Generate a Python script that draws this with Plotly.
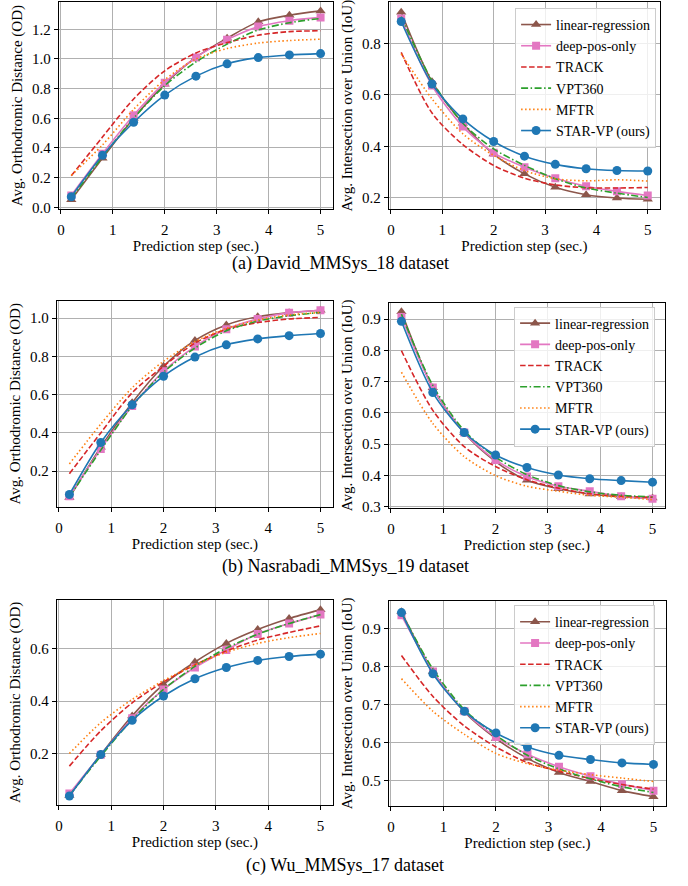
import plotly.graph_objects as go

W, H = 688, 886

steps = [0.2, 0.8, 1.4, 2.0, 2.6, 3.2, 3.8, 4.4, 5.0]
methods = ["linear-regression", "deep-pos-only", "TRACK", "VPT360", "MFTR", "STAR-VP (ours)"]

# (a) David_MMSys_18
david_od = {
    "linear-regression": [0.05, 0.33, 0.60, 0.83, 1.01, 1.14, 1.25, 1.295, 1.324],
    "deep-pos-only":     [0.08, 0.36, 0.62, 0.84, 1.01, 1.13, 1.218, 1.258, 1.28],
    "TRACK":             [0.213, 0.473, 0.73, 0.92, 1.04, 1.11, 1.16, 1.184, 1.19],
    "VPT360":            [0.06, 0.34, 0.60, 0.82, 0.98, 1.10, 1.195, 1.244, 1.273],
    "MFTR":              [0.215, 0.42, 0.66, 0.86, 1.00, 1.07, 1.107, 1.124, 1.133],
    "STAR-VP (ours)":    [0.071, 0.35, 0.573, 0.756, 0.884, 0.967, 1.009, 1.027, 1.036],
}
david_iou = {
    "linear-regression": [0.922, 0.652, 0.49, 0.37, 0.293, 0.241, 0.212, 0.199, 0.194],
    "deep-pos-only":     [0.898, 0.637, 0.477, 0.375, 0.319, 0.276, 0.245, 0.225, 0.209],
    "TRACK":             [0.766, 0.53, 0.407, 0.326, 0.276, 0.25, 0.239, 0.238, 0.24],
    "VPT360":            [0.905, 0.655, 0.49, 0.39, 0.326, 0.274, 0.238, 0.218, 0.201],
    "MFTR":              [0.76, 0.585, 0.449, 0.365, 0.306, 0.274, 0.266, 0.27, 0.265],
    "STAR-VP (ours)":    [0.886, 0.643, 0.507, 0.419, 0.362, 0.33, 0.313, 0.306, 0.304],
}
# (b) Nasrabadi_MMSys_19
nasr_od = {
    "linear-regression": [0.062, 0.325, 0.558, 0.748, 0.883, 0.964, 1.007, 1.028, 1.041],
    "deep-pos-only":     [0.069, 0.316, 0.54, 0.722, 0.851, 0.941, 0.995, 1.028, 1.041],
    "TRACK":             [0.187, 0.40, 0.61, 0.748, 0.869, 0.941, 0.976, 0.995, 1.003],
    "VPT360":            [0.065, 0.31, 0.54, 0.717, 0.843, 0.933, 0.984, 1.012, 1.029],
    "MFTR":              [0.238, 0.446, 0.636, 0.774, 0.877, 0.946, 0.99, 1.016, 1.029],
    "STAR-VP (ours)":    [0.078, 0.35, 0.547, 0.696, 0.796, 0.86, 0.891, 0.908, 0.919],
}
nasr_iou = {
    "linear-regression": [0.924, 0.68, 0.536, 0.444, 0.384, 0.357, 0.34, 0.331, 0.327],
    "deep-pos-only":     [0.907, 0.681, 0.537, 0.449, 0.396, 0.365, 0.349, 0.333, 0.325],
    "TRACK":             [0.799, 0.608, 0.492, 0.428, 0.386, 0.359, 0.341, 0.333, 0.33],
    "VPT360":            [0.916, 0.688, 0.543, 0.458, 0.402, 0.367, 0.347, 0.336, 0.331],
    "MFTR":              [0.73, 0.566, 0.46, 0.399, 0.365, 0.349, 0.336, 0.33, 0.322],
    "STAR-VP (ours)":    [0.893, 0.665, 0.537, 0.465, 0.425, 0.401, 0.389, 0.383, 0.378],
}
# (c) Wu_MMSys_17
wu_od = {
    "linear-regression": [0.04, 0.196, 0.344, 0.464, 0.55, 0.621, 0.674, 0.716, 0.75],
    "deep-pos-only":     [0.047, 0.195, 0.335, 0.445, 0.529, 0.596, 0.657, 0.697, 0.731],
    "TRACK":             [0.152, 0.287, 0.394, 0.474, 0.539, 0.592, 0.634, 0.663, 0.688],
    "VPT360":            [0.04, 0.19, 0.33, 0.445, 0.533, 0.603, 0.656, 0.697, 0.731],
    "MFTR":              [0.20, 0.318, 0.407, 0.479, 0.539, 0.587, 0.621, 0.643, 0.659],
    "STAR-VP (ours)":    [0.038, 0.196, 0.327, 0.42, 0.486, 0.529, 0.556, 0.571, 0.58],
}
wu_iou = {
    "linear-regression": [0.944, 0.787, 0.68, 0.61, 0.558, 0.521, 0.497, 0.473, 0.457],
    "deep-pos-only":     [0.935, 0.787, 0.682, 0.614, 0.569, 0.536, 0.511, 0.49, 0.473],
    "TRACK":             [0.829, 0.721, 0.643, 0.588, 0.547, 0.524, 0.505, 0.489, 0.477],
    "VPT360":            [0.942, 0.793, 0.686, 0.619, 0.566, 0.53, 0.504, 0.483, 0.468],
    "MFTR":              [0.768, 0.682, 0.621, 0.571, 0.544, 0.527, 0.515, 0.506, 0.497],
    "STAR-VP (ours)":    [0.942, 0.781, 0.682, 0.625, 0.588, 0.566, 0.555, 0.546, 0.542],
}

captions = ["(a) David_MMSys_18 dataset", "(b) Nasrabadi_MMSys_19 dataset", "(c) Wu_MMSys_17 dataset"]
od_title = "Avg. Orthodromic Distance (OD)"
iou_title = "Avg. Intersection over Union (IoU)"
x_title = "Prediction step (sec.)"

# styles
styles = {
    "linear-regression": dict(color="#8c564b", dash="solid", symbol="triangle-up", msize=9),
    "deep-pos-only": dict(color="#e377c2", dash="solid", symbol="square", msize=8),
    "TRACK": dict(color="#d62728", dash="5.5px,2.5px", symbol=None, msize=0),
    "VPT360": dict(color="#2ca02c", dash="7px,2.5px,1.5px,2.5px", symbol=None, msize=0),
    "MFTR": dict(color="#ff7f0e", dash="1.5px,2.5px", symbol=None, msize=0),
    "STAR-VP (ours)": dict(color="#1f77b4", dash="solid", symbol="circle", msize=9),
}

FONT = "Liberation Serif"

# panel pixel boxes: (x0, x1, ytop, ybottom), yrange, yticks, data, ytitle, legend
panels = [
    ((57, 332, 2, 211), (-0.014, 1.384), [0.0, 0.2, 0.4, 0.6, 0.8, 1.0, 1.2], david_od, od_title, None),
    ((388, 660, 2, 211), (0.155, 0.962), [0.2, 0.4, 0.6, 0.8], david_iou, iou_title, "legend"),
    ((55, 332, 303, 511), (0.013, 1.091), [0.2, 0.4, 0.6, 0.8, 1.0], nasr_od, od_title, None),
    ((388, 665, 305, 512), (0.2955, 0.953), [0.3, 0.4, 0.5, 0.6, 0.7, 0.8, 0.9], nasr_iou, iou_title, "legend2"),
    ((55, 332, 605, 811), (0.005, 0.786), [0.2, 0.4, 0.6], wu_od, od_title, None),
    ((388, 666, 606, 812), (0.4336, 0.972), [0.5, 0.6, 0.7, 0.8, 0.9], wu_iou, iou_title, "legend3"),
]

fig = go.Figure()
layout = dict(
    width=W, height=H, margin=dict(l=0, r=0, t=0, b=0),
    paper_bgcolor="white", plot_bgcolor="white",
    font=dict(family=FONT, size=14, color="black"),
)

for i, (box, yr, yt, data, ytitle, leg) in enumerate(panels):
    n = "" if i == 0 else str(i + 1)
    x0, x1, yt0, yb = box
    common = dict(
        showline=True, mirror=True, linecolor="black", linewidth=1,
        ticks="outside", ticklen=4, tickcolor="black", tickwidth=1,
        showgrid=True, gridcolor="#b0b0b0", gridwidth=1, zeroline=False,
        tickfont=dict(family=FONT, size=15, color="black"),
    )
    layout["xaxis" + n] = dict(
        domain=[x0 / W, x1 / W], range=[-0.04, 5.24], anchor="y" + n,
        tickvals=[0, 1, 2, 3, 4, 5], ticklabelstandoff=3,
        title=dict(text=x_title, standoff=2, font=dict(family=FONT, size=15)),
        **common,
    )
    layout["yaxis" + n] = dict(
        domain=[1 - yb / H, 1 - yt0 / H], range=list(yr), anchor="x" + n,
        tickvals=yt, ticktext=[f"{v:.1f}" for v in yt],
        title=dict(text=ytitle, standoff=5, font=dict(family=FONT, size=15)),
        **common,
    )
    for m in methods:
        s = styles[m]
        mode = "lines+markers" if s["symbol"] else "lines"
        tr = dict(
            x=steps, y=data[m], name=m, mode=mode,
            line=dict(color=s["color"], width=1.6, dash=s["dash"], shape="spline", smoothing=0.8),
            xaxis="x" + n, yaxis="y" + n,
            showlegend=leg is not None,
        )
        if s["symbol"]:
            tr["marker"] = dict(symbol=s["symbol"], size=s["msize"], color=s["color"])
        if leg is not None:
            tr["legend"] = leg
        fig.add_trace(go.Scatter(**tr))

legend_common = dict(
    bgcolor="rgba(255,255,255,0.8)", bordercolor="#cccccc", borderwidth=1,
    font=dict(family=FONT, size=14, color="black"),
    xanchor="right", yanchor="top", tracegroupgap=0, itemwidth=30,
)
layout["legend"] = dict(x=656 / W, y=1 - 8 / H, **legend_common)
layout["legend2"] = dict(x=655 / W, y=1 - 309 / H, **legend_common)
layout["legend3"] = dict(x=655 / W, y=1 - 610 / H, **legend_common)

cap_y = [266, 571, 872]
cap_x = [339, 344, 344]
layout["annotations"] = [
    dict(text=c, x=cx / W, y=1 - cy / H, xref="paper", yref="paper",
         xanchor="center", yanchor="middle", showarrow=False,
         font=dict(family=FONT, size=18, color="black"))
    for c, cx, cy in zip(captions, cap_x, cap_y)
]

fig.update_layout(**layout)
fig.write_html("out.html", config={"displayModeBar": False},
               post_script="document.body.style.margin='0';")
